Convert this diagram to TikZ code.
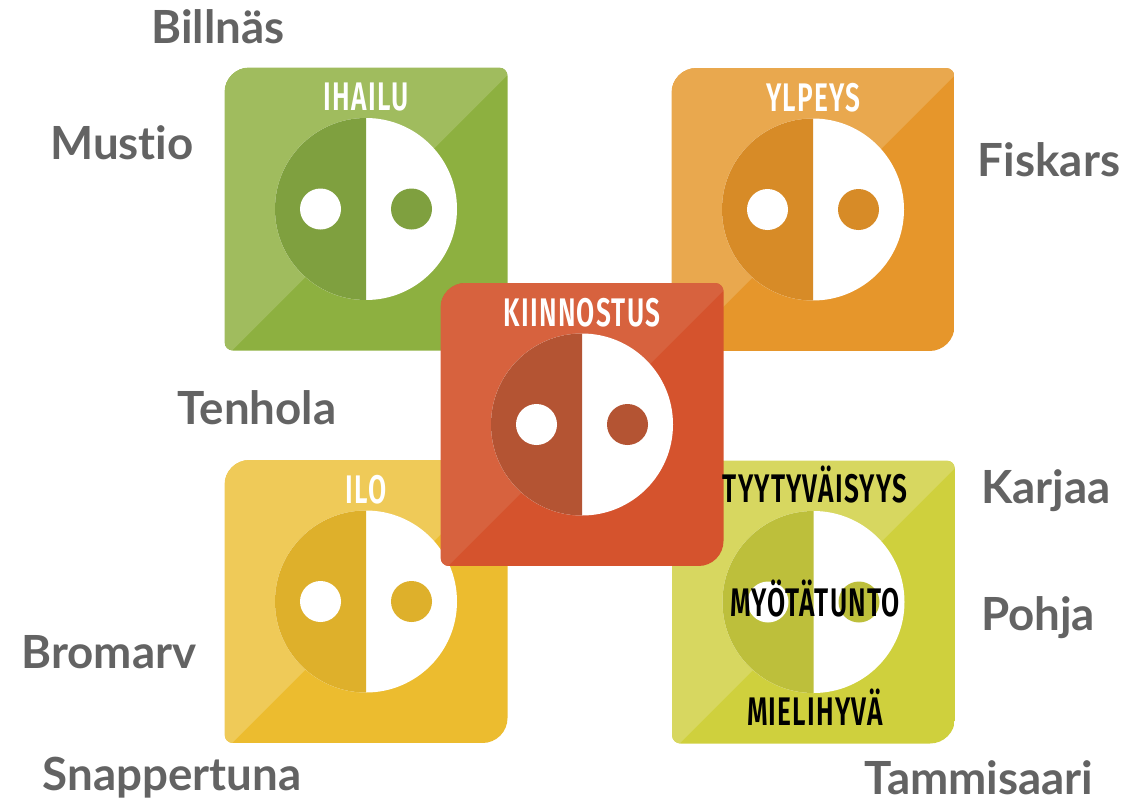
\documentclass[tikz,border=0pt]{standalone}
\usepackage{fontspec}
\setmainfont[Ligatures = {NoCommon}]{Lato}
\newfontfamily\tagfont[FakeStretch = .66, LetterSpace = 3]{Fira Sans SemiBold}
\definecolor{greenbase}{HTML}{8DB040}
\definecolor{greenlight}{HTML}{A0BC5E}
\definecolor{greendark}{HTML}{7FA03F}
\definecolor{orangebase}{HTML}{E6962B}
\definecolor{orangelight}{HTML}{E9A84E}
\definecolor{orangedark}{HTML}{D78B27}
\definecolor{yellowbase}{HTML}{ECBC2F}
\definecolor{yellowlight}{HTML}{EFCA58}
\definecolor{yellowdark}{HTML}{DEB02B}
\definecolor{limebase}{HTML}{CFD03D}
\definecolor{limelight}{HTML}{D7D760}
\definecolor{limedark}{HTML}{BDBF3B}
\definecolor{redbase}{HTML}{D5532D}
\definecolor{redlight}{HTML}{D7623E}
\definecolor{reddark}{HTML}{B45433}
\definecolor{placegray}{HTML}{636363}
\tikzset{
  placelabel/.style = {text = placegray, inner sep = 0pt, font = \fontsize{26}{30}\selectfont\bfseries},
  taglabel/.style = {inner sep = 0pt, text height = 16pt, text depth = 0pt,
                     font = \fontsize{22.7}{26}\selectfont\tagfont}
}
\begin{document}
\begin{tikzpicture}[x = .02cm, y = -.02cm]
      \useasboundingbox (0,0) rectangle (1146,808);
      \foreach \name/\cx/\cy/\tone/\tag in {
          ihailu/366/209/green/IHAILU,
          ylpeys/813/209.5/orange/YLPEYS,
          ilo/366/601.5/yellow/ILO,
          lime/813.5/602/lime/{},
          kiinnostus/582/424.5/red/KIINNOSTUS} {
        \begin{scope}
          \clip (\cx,\cy-141.5)
            [rounded corners = .17cm] -- (\cx+141.5,\cy-141.5) -- (\cx+141.5,\cy)
            [rounded corners = .5cm] -- (\cx+141.5,\cy+141.5) -- (\cx,\cy+141.5)
            [rounded corners = .17cm] -- (\cx-141.5,\cy+141.5) -- (\cx-141.5,\cy)
            [rounded corners = .5cm] -- (\cx-141.5,\cy-141.5) -- cycle;
          \fill [\tone base] (\cx-141.5,\cy-141.5) rectangle (\cx+141.5,\cy+141.5);
          \fill [\tone light] (\cx-141.5,\cy-141.5) -- (\cx+141.5,\cy-141.5)
            -- (\cx+141.5,\cy-134) -- (\cx-134,\cy+141.5) -- (\cx-141.5,\cy+141.5) -- cycle;
        \end{scope}
        \fill [white] (\cx,\cy) circle (91);
        \fill [\tone dark] (\cx,\cy-91) arc (-90:-270:91) -- cycle;
        \fill [white] (\cx-45.5,\cy) circle (20.5);
        \fill [\tone dark] (\cx+45.5,\cy) circle (20.5);
        \node [taglabel, text = white] (\name) at (\cx,\cy-112.5) {\tag};
      }
      \node [taglabel] (tyytyvaisyys) at (815,488) {TYYTYVÄISYYS};
      \node [taglabel] (myotatunto) at (815,602) {MYÖTÄTUNTO};
      \node [taglabel] (mielihyva) at (815,711) {MIELIHYVÄ};
      \node [placelabel] (billnas) at (218,27) {Billnäs};
      \node [placelabel] (mustio) at (122,143) {Mustio};
      \node [placelabel] (tenhola) at (257,408) {Tenhola};
      \node [placelabel] (bromarv) at (109,652) {Bromarv};
      \node [placelabel] (snappertuna) at (172,778) {Snappertuna};
      \node [placelabel] (fiskars) at (1049,160) {Fiskars};
      \node [placelabel] (karjaa) at (1046,491) {Karjaa};
      \node [placelabel] (pohja) at (1038,618) {Pohja};
      \node [placelabel] (tammisaari) at (979,778) {Tammisaari};
    \end{tikzpicture}
\end{document}
